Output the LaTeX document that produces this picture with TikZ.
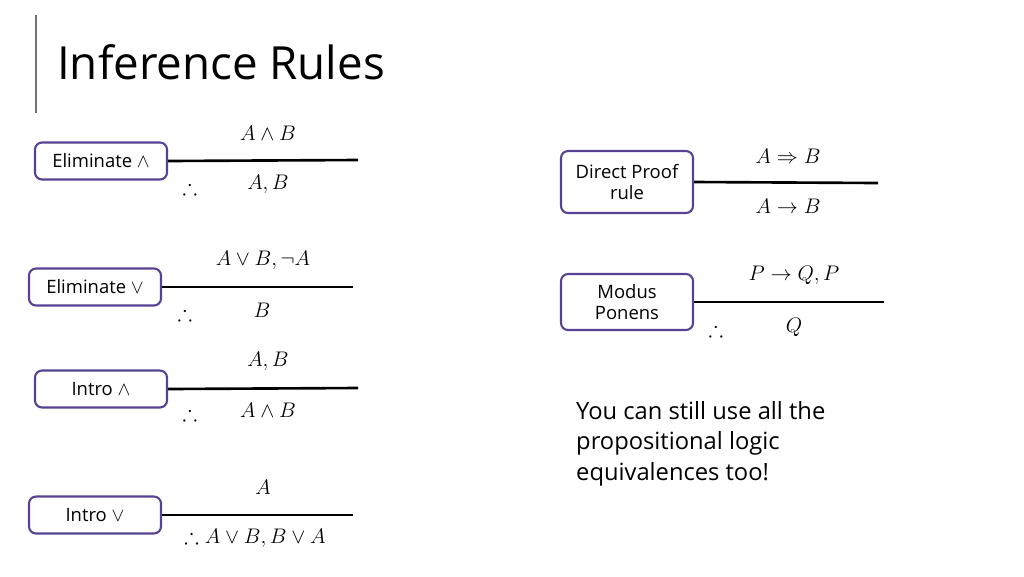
\documentclass[tikz,border=0pt]{standalone}
\usepackage{amssymb}
\usepackage{fontspec}
\setmainfont{Open Sans}
\definecolor{boxline}{RGB}{88,66,148}
\begin{document}
\begin{tikzpicture}[x=0.02cm,y=-0.02cm]
	\tikzset{rulebox/.style = {draw=boxline,line width=1.2pt,rounded corners=4pt,minimum width=2.64cm,align=center,font=\fontsize{10.5}{12}\selectfont,inner sep=2pt}}
	\tikzset{bar/.style = {line width=1.5pt}}
	\tikzset{formula/.style = {font=\fontsize{12.5}{14}\selectfont}}
	\useasboundingbox (0,0) rectangle (1024,576);
	\draw[line width=1pt,gray!70!boxline] (36,15) -- (36,113);
	\node[anchor=west,font=\fontsize{26}{30}\selectfont] (title) at (51,62) {Inference Rules};
	% eliminate and
	\node[rulebox,minimum height=0.74cm] (elimand) at (101,161) {Eliminate $\wedge$};
	\coordinate (elimandend) at (358,160);
	\draw[bar] (elimand.east) -- (elimandend);
	\node[formula] (f1a) at (268,133) {$A\wedge B$};
	\node[formula] (f1t) at (190,187) {$\therefore$};
	\node[formula] (f1b) at (268,184) {$A,B$};
	% eliminate or
	\node[rulebox,minimum height=0.74cm] (elimor) at (95,287) {Eliminate $\vee$};
	\coordinate (elimorend) at (353,287);
	\draw[bar] (elimor.east) -- (elimorend);
	\node[formula] (f2a) at (263,260) {$A\vee B,\neg A$};
	\node[formula] (f2t) at (185,313) {$\therefore$};
	\node[formula] (f2b) at (262,310) {$B$};
	% intro and
	\node[rulebox,minimum height=0.74cm] (introand) at (101,389) {Intro $\wedge$};
	\coordinate (introandend) at (358,388);
	\draw[bar] (introand.east) -- (introandend);
	\node[formula] (f3a) at (268,361) {$A,B$};
	\node[formula] (f3t) at (190,413) {$\therefore$};
	\node[formula] (f3b) at (268,410) {$A\wedge B$};
	% intro or
	\node[rulebox,minimum height=0.74cm] (introor) at (95,515) {Intro $\vee$};
	\coordinate (introorend) at (353,515);
	\draw[bar] (introor.east) -- (introorend);
	\node[formula] (f4a) at (263,487) {$A$};
	\node[formula] (f4b) at (255,538) {$\therefore A\vee B,B\vee A$};
	% direct proof
	\node[rulebox,minimum height=1.24cm] (direct) at (627,182) {Direct Proof\\rule};
	\coordinate (directend) at (878,183);
	\draw[bar] (direct.east) -- (directend);
	\node[formula] (f5a) at (788,156) {$A\Rightarrow B$};
	\node[formula] (f5b) at (788,206) {$A\rightarrow B$};
	% modus ponens
	\node[rulebox,minimum height=1.12cm] (modus) at (627,302) {Modus\\Ponens};
	\coordinate (modusend) at (884,302);
	\draw[bar] (modus.east) -- (modusend);
	\node[formula] (f6a) at (794,275) {$P\rightarrow Q,P$};
	\node[formula] (f6t) at (716,329) {$\therefore$};
	\node[formula] (f6b) at (794,327) {$Q$};
	\node[anchor=north west,align=left,font=\fontsize{13.5}{17.5}\selectfont] (note) at (570,395) {You can still use all the\\propositional logic\\equivalences too!};
\end{tikzpicture}
\end{document}
